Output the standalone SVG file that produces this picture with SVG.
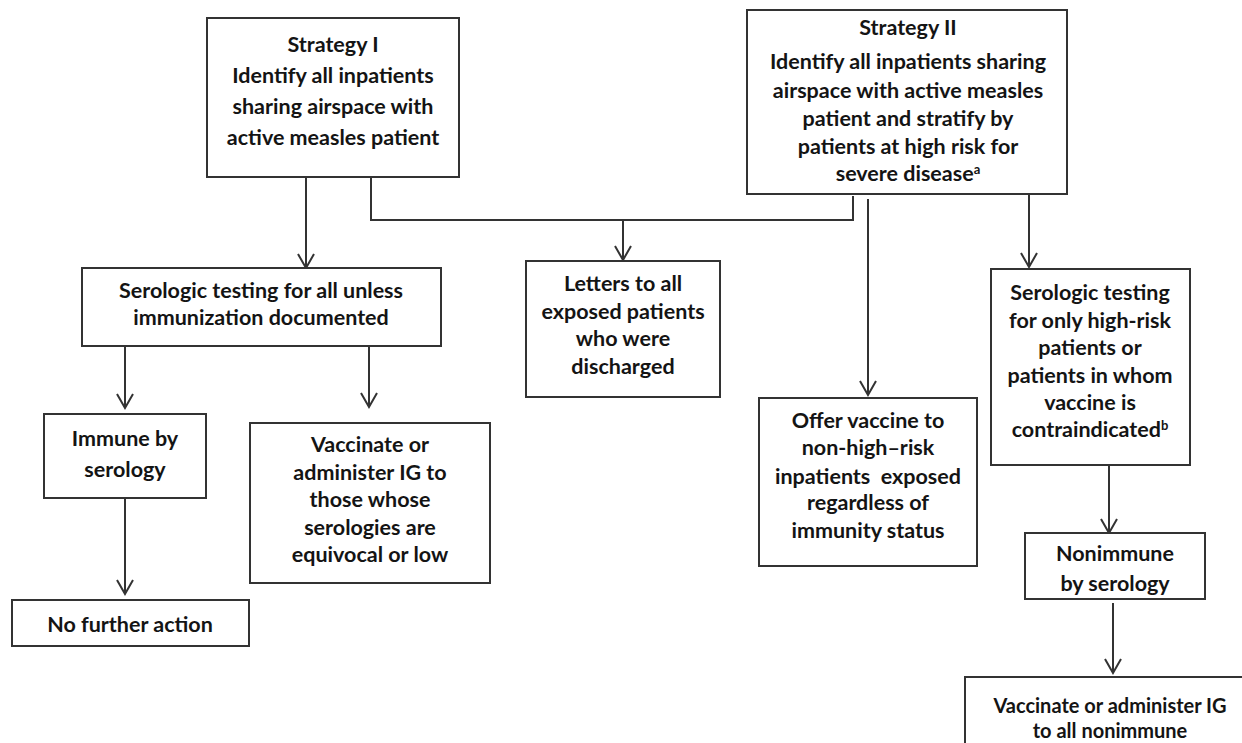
<svg xmlns="http://www.w3.org/2000/svg" width="1242" height="743" viewBox="0 0 1242 743">
<style>
.box{fill:#fff;stroke:#333;stroke-width:2}
.t{font-family:Lato,"Open Sans","Liberation Sans",sans-serif;font-weight:700;font-size:21.5px;fill:#141414;text-anchor:middle}
.sm{font-size:20px}
.sup{font-size:13px}
.ln{fill:none;stroke:#333;stroke-width:2}
</style>
<defs>
<marker id="arr" markerUnits="userSpaceOnUse" markerWidth="20" markerHeight="20" refX="0" refY="0" orient="auto" overflow="visible">
<path d="M-14,-8 L0,0 L-14,8" fill="none" stroke="#333" stroke-width="2"/>
</marker>
</defs>
<rect width="1242" height="743" fill="#fff"/>
<g id="connectors">
<path class="ln" d="M306,177 V268" marker-end="url(#arr)"/>
<path class="ln" d="M371,177 V220 H853 V196"/>
<path class="ln" d="M623,220 V260" marker-end="url(#arr)"/>
<path class="ln" d="M868,199 V395" marker-end="url(#arr)"/>
<path class="ln" d="M1029,194 V267" marker-end="url(#arr)"/>
<path class="ln" d="M125,346 V408" marker-end="url(#arr)"/>
<path class="ln" d="M369,346 V407" marker-end="url(#arr)"/>
<path class="ln" d="M125,498 V594" marker-end="url(#arr)"/>
<path class="ln" d="M1109,465 V533" marker-end="url(#arr)"/>
<path class="ln" d="M1113,603 V673" marker-end="url(#arr)"/>
</g>
<g id="strategy1">
<rect class="box" x="207" y="18" width="252" height="159"/>
<text class="t" x="333" y="52">Strategy I</text>
<text class="t" x="333" y="83">Identify all inpatients</text>
<text class="t" x="333" y="114">sharing airspace with</text>
<text class="t" x="333" y="145">active measles patient</text>
</g>
<g id="strategy2">
<rect class="box" x="747" y="10" width="320" height="184"/>
<text class="t" x="908" y="35">Strategy II</text>
<text class="t" x="908" y="69">Identify all inpatients sharing</text>
<text class="t" x="908" y="98">airspace with active measles</text>
<text class="t" x="908" y="126">patient and stratify by</text>
<text class="t" x="908" y="154">patients at high risk for</text>
<text class="t" x="908" y="181">severe disease<tspan class="sup" dy="-7">a</tspan></text>
</g>
<g id="serologic-all">
<rect class="box" x="82" y="268" width="359" height="78"/>
<text class="t" x="261" y="298">Serologic testing for all unless</text>
<text class="t" x="261" y="325">immunization documented</text>
</g>
<g id="letters">
<rect class="box" x="526" y="261" width="194" height="136"/>
<text class="t" x="623" y="291">Letters to all</text>
<text class="t" x="623" y="319">exposed patients</text>
<text class="t" x="623" y="346">who were</text>
<text class="t" x="623" y="374">discharged</text>
</g>
<g id="serologic-highrisk">
<rect class="box" x="991" y="269" width="199" height="196"/>
<text class="t" x="1090" y="300">Serologic testing</text>
<text class="t" x="1090" y="328">for only high-risk</text>
<text class="t" x="1090" y="355">patients or</text>
<text class="t" x="1090" y="383">patients in whom</text>
<text class="t" x="1090" y="410">vaccine is</text>
<text class="t" x="1090" y="437">contraindicated<tspan class="sup" dy="-7">b</tspan></text>
</g>
<g id="immune">
<rect class="box" x="44" y="414" width="162" height="84"/>
<text class="t" x="125" y="446">Immune by</text>
<text class="t" x="125" y="477">serology</text>
</g>
<g id="vaccinate-low">
<rect class="box" x="250" y="423" width="240" height="160"/>
<text class="t" x="370" y="452">Vaccinate or</text>
<text class="t" x="370" y="480">administer IG to</text>
<text class="t" x="370" y="507">those whose</text>
<text class="t" x="370" y="535">serologies are</text>
<text class="t" x="370" y="562">equivocal or low</text>
</g>
<g id="offer">
<rect class="box" x="759" y="398" width="218" height="168"/>
<text class="t" x="868" y="428">Offer vaccine to</text>
<text class="t" x="868" y="455">non-high–risk</text>
<text class="t" x="868" y="484" xml:space="preserve">inpatients  exposed</text>
<text class="t" x="868" y="510">regardless of</text>
<text class="t" x="868" y="538">immunity status</text>
</g>
<g id="no-further">
<rect class="box" x="12" y="600" width="237" height="46"/>
<text class="t" x="130" y="632">No further action</text>
</g>
<g id="nonimmune">
<rect class="box" x="1025" y="533" width="180" height="66"/>
<text class="t" x="1115" y="561">Nonimmune</text>
<text class="t" x="1115" y="591">by serology</text>
</g>
<g id="vaccinate-all">
<rect class="box" x="965" y="677" width="290" height="90"/>
<text class="t sm" x="1110" y="713">Vaccinate or administer IG</text>
<text class="t sm" x="1110" y="738">to all nonimmune</text>
</g>
</svg>
